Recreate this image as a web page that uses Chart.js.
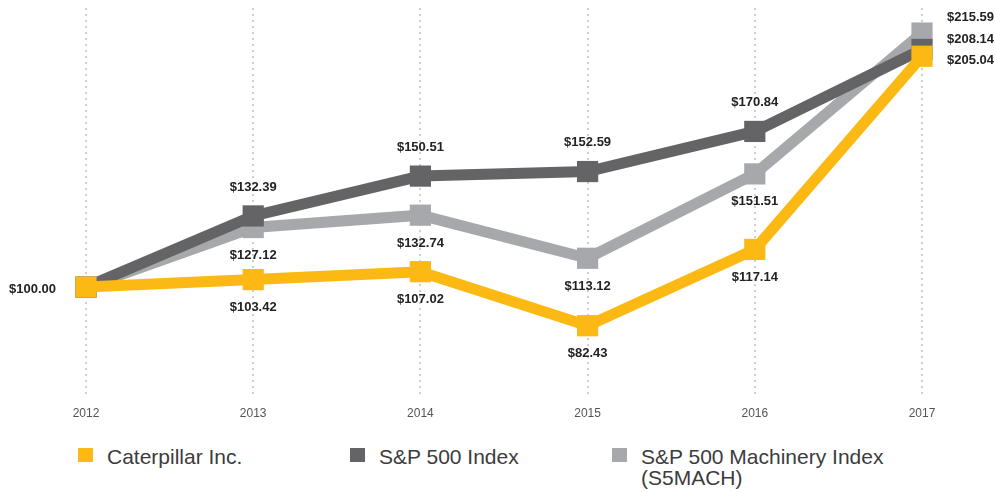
<!DOCTYPE html>
<html>
<head>
<meta charset="utf-8">
<script src="https://cdn.jsdelivr.net/npm/chart.js@4/dist/chart.umd.min.js"></script>
<style>
body{margin:0;background:#fff;width:995px;height:492px;overflow:hidden;position:relative;font-family:"Liberation Sans",Arial,sans-serif}
#wrap{position:absolute;left:0;top:0;width:995px;height:425px}
.leg{position:absolute;top:446px;font-size:21px;line-height:21px;color:#3c3c3c}
.leg span{position:absolute;left:0;top:2px;width:15px;height:14px}
.leg div{margin-left:29px}
</style>
</head>
<body>
<div id="wrap"><canvas id="grafico"></canvas></div>
<div id="leyenda"></div>
<script>
// Datos del gráfico
const years = ['2012', '2013', '2014', '2015', '2016', '2017'];
const caterpillar = [100.00, 103.42, 107.02, 82.43, 117.14, 205.04];
const sp500 = [100.00, 132.39, 150.51, 152.59, 170.84, 208.14];
const machinery = [100.00, 127.12, 132.74, 113.12, 151.51, 215.59];
const seriesNames = ['Caterpillar Inc.', 'S&P 500 Index', 'S&P 500 Machinery Index<br>(S5MACH)'];

// Colores y posición de las etiquetas
const colores = ['#FDB913', '#646466', '#A7A8AB'];
const lados = [
  ['l', 'b', 'b', 'b', 'b', 'r'],
  ['', 't', 't', 't', 't', 'r'],
  ['', 'b', 'b', 'b', 'b', 'r']
];
const desplazDerecha = [4, -10, -16];

// Plugin para dibujar los valores
const etiquetas = {
  id: 'etiquetas',
  afterDatasetsDraw(chart) {
    const ctx = chart.ctx;
    ctx.save();
    ctx.font = 'bold 13px "Liberation Sans", Arial, sans-serif';
    ctx.fillStyle = '#222';
    ctx.textBaseline = 'middle';
    chart.data.datasets.forEach((ds, d) => {
      const meta = chart.getDatasetMeta(d);
      meta.data.forEach((pt, i) => {
        const lado = lados[d][i];
        if (!lado) return;
        const txt = '$' + ds.data[i].toFixed(2);
        if (lado === 'l') {
          ctx.textAlign = 'right';
          ctx.fillText(txt, pt.x - 30, pt.y + 2);
        } else if (lado === 'r') {
          ctx.textAlign = 'left';
          ctx.fillText(txt, pt.x + 25, pt.y + desplazDerecha[d]);
        } else if (lado === 't') {
          ctx.textAlign = 'center';
          ctx.fillText(txt, pt.x, pt.y - 29);
        } else {
          ctx.textAlign = 'center';
          ctx.fillText(txt, pt.x, pt.y + 28);
        }
      });
    });
    ctx.restore();
  }
};

function serie(label, data, color) {
  return {
    label: label,
    data: data,
    borderColor: color,
    backgroundColor: color,
    borderWidth: 11,
    pointStyle: 'rect',
    pointRadius: 15,
    pointBorderWidth: 0,
    pointBackgroundColor: color,
    tension: 0,
    clip: false
  };
}

const ctx = document.getElementById('grafico').getContext('2d');
const chart = new Chart(ctx, {
  type: 'line',
  data: {
    labels: years,
    datasets: [
      serie(seriesNames[0], caterpillar, colores[0]),
      serie(seriesNames[1], sp500, colores[1]),
      serie(seriesNames[2], machinery, colores[2])
    ]
  },
  options: {
    responsive: true,
    maintainAspectRatio: false,
    animation: false,
    layout: { autoPadding: false, padding: { left: 86, right: 73, top: 8, bottom: 0 } },
    plugins: { legend: { display: false }, tooltip: { enabled: false } },
    scales: {
      x: {
        offset: false,
        grid: { color: '#cfcfcf', lineWidth: 2, drawTicks: false },
        border: { display: false, dash: [2, 4] },
        ticks: {
          color: '#555',
          padding: 9,
          font: { size: 12, family: '"Liberation Sans", Arial, sans-serif' }
        },
        afterFit(scale) { scale.height = 28; }
      },
      y: {
        display: false,
        min: 50,
        max: 227
      }
    }
  },
  plugins: [etiquetas]
});

// Leyenda
const posLeyenda = [78, 350, 612];
const leyenda = document.getElementById('leyenda');
seriesNames.forEach((nombre, i) => {
  const item = document.createElement('div');
  item.className = 'leg';
  item.style.left = posLeyenda[i] + 'px';
  item.innerHTML = '<span style="background:' + colores[i] + '"></span><div>' + nombre + '</div>';
  leyenda.appendChild(item);
});
</script>
</body>
</html>
